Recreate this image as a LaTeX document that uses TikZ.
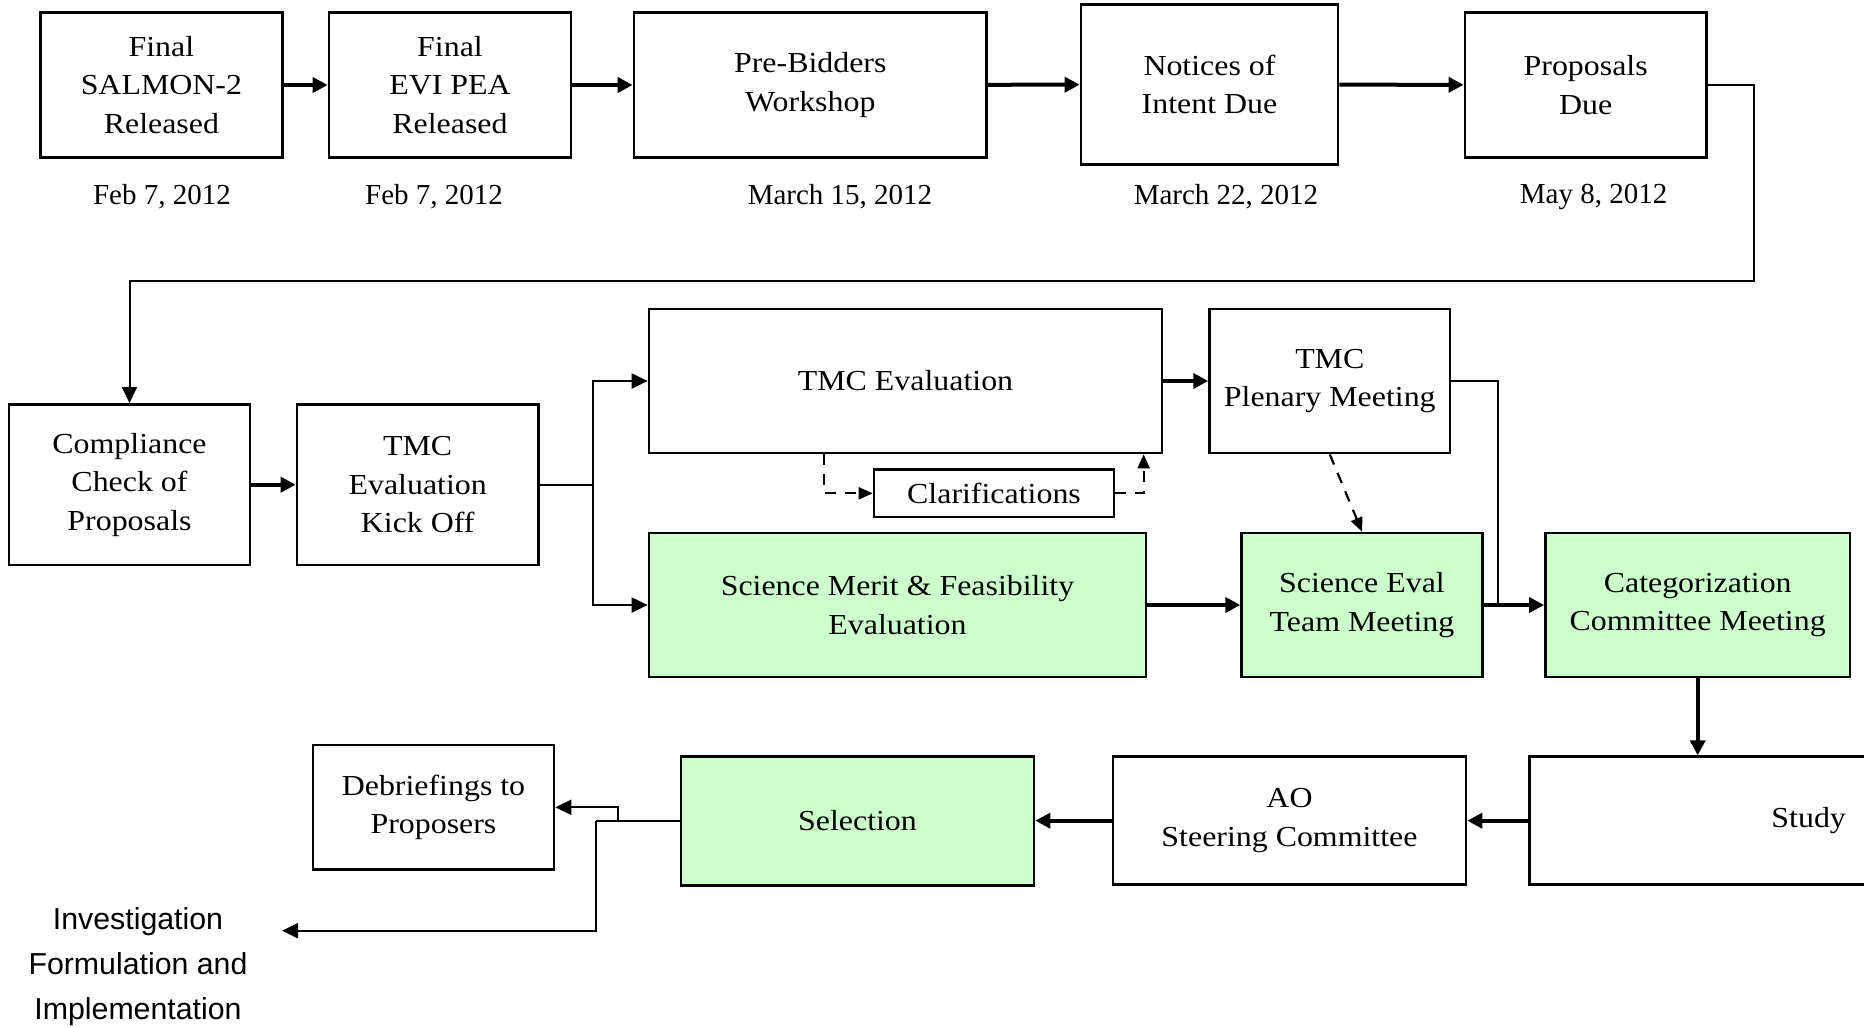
\documentclass[tikz,border=0pt]{standalone}
\usepackage{fontspec}
\setmainfont{Liberation Serif}[FakeStretch=1.1]
\newfontfamily\datefont{Liberation Serif}
\newfontfamily\sansfont{Liberation Sans}
\usepackage{xcolor}
\usepackage{tikz}
\usetikzlibrary{arrows.meta,calc,positioning}
\definecolor{evalgreen}{RGB}{204,255,204}

\begin{document}
\begin{tikzpicture}[x=1pt,y=-1pt,
    box/.style={draw,line width=2.7pt,align=center,inner sep=0pt,
      font=\fontsize{29}{38.5}\selectfont},
    green box/.style={box,fill=evalgreen},
    date/.style={font=\datefont\fontsize{29}{34}\selectfont},
    thick line/.style={line width=4pt,-{Triangle[length=15pt,width=15pt]}},
    thin line/.style={line width=2pt,-{Triangle[length=16pt,width=15pt]}},
    dash line/.style={line width=2.2pt,dash pattern=on 11pt off 9pt,
      -{Triangle[length=14pt,width=12pt]}}]

    \useasboundingbox (0,0) rectangle (1864,1028);
    \fill[white] (0,0) rectangle (1864,1028);
    \clip (0,0) rectangle (1864,1028);

    % announcement row
    \node[box,minimum width=242pt,minimum height=144.6pt] (sal) at (161.4,85) {Final\\SALMON-2\\Released};
    \node[box,minimum width=242pt,minimum height=144.6pt] (evi) at (450,85) {Final\\EVI PEA\\Released};
    \node[box,minimum width=352.7pt,minimum height=144.6pt] (pre) at (810.3,85) {Pre-Bidders\\Workshop};
    \node[box,minimum width=257pt,minimum height=160.4pt] (noi) at (1209.5,84.5) {Notices of\\Intent Due};
    \node[box,minimum width=241.5pt,minimum height=144.6pt] (pro) at (1585.7,85) {Proposals\\Due};

    \node[date] (dsal) at (162,196.5) {Feb 7, 2012};
    \node[date] (devi) at (434,196.5) {Feb 7, 2012};
    \node[date] (dpre) at (840,196.5) {March 15, 2012};
    \node[date] (dnoi) at (1226,196.5) {March 22, 2012};
    \node[date] (dpro) at (1593.6,196.5) {May 8, 2012};

    % evaluation row
    \node[box,minimum width=241pt,minimum height=160.7pt] (comp) at (129.5,484.7) {Compliance\\Check of\\Proposals};
    \node[box,minimum width=241.5pt,minimum height=160.7pt] (kick) at (417.7,484.7) {TMC\\Evaluation\\Kick Off};
    \node[box,minimum width=513pt,minimum height=144pt] (tmce) at (905.5,381) {TMC Evaluation};
    \node[box,minimum width=240.4pt,minimum height=144pt] (plen) at (1329.8,381) {TMC\\Plenary Meeting};
    \node[box,minimum width=240pt,minimum height=47.4pt] (clar) at (994,493.3) {Clarifications};
    \node[green box,minimum width=497pt,minimum height=144pt] (merit) at (897.5,605) {Science Merit \& Feasibility\\Evaluation};
    \node[green box,minimum width=240.7pt,minimum height=144pt] (seval) at (1362,605) {Science Eval\\Team Meeting};
    \node[green box,minimum width=304.6pt,minimum height=144pt] (cat) at (1697.7,605) {Categorization\\Committee Meeting};

    % selection row
    \node[box,minimum width=559pt,minimum height=128pt] (study) at (1808.7,820.7) {Study};
    \node[box,minimum width=353pt,minimum height=128pt] (ao) at (1289.5,820.7) {AO\\Steering Committee};
    \node[green box,minimum width=353pt,minimum height=129pt] (sel) at (857.5,820.7) {Selection};
    \node[box,minimum width=241pt,minimum height=124.7pt] (deb) at (433.5,807.3) {Debriefings to\\Proposers};
    \node[align=center,font=\sansfont\fontsize{30.3}{45}\selectfont] (inv) at (138,967) {Investigation\\Formulation and\\Implementation};

    \coordinate (turn) at (1754,281);
    \coordinate (split) at (593,484.7);
    \coordinate (join) at (1498,605);
    \coordinate (fork) at (618,820.7);
    \coordinate (drop) at (596,820.7);
    \coordinate (impl) at (282,930.7);

    \draw[thick line] (sal) edge (evi) (evi) edge (pre) (pre) edge (noi) (noi) edge (pro);
    \draw[thin line] (pro.east) -| (turn) -| (comp.north);
    \draw[thick line] (comp) -- (kick);
    \draw[line width=2pt] (kick.east) -- (split);
    \draw[thin line] (split) |- (tmce.west);
    \draw[thin line] (split) |- (merit.west);
    \draw[thick line] (tmce) -- (plen);
    \draw[thick line] (merit) -- (seval);
    \draw[line width=2pt] (plen.east) -| (join);
    \draw[thick line] (seval) -- (cat);
    \draw[dash line] ($(tmce.south west)+(176,0)$) |- (clar.west);
    \draw[dash line] (clar.east) -| ($(tmce.south west)+(496,0)$);
    \draw[dash line] (plen.south) -- (seval.north);
    \draw[thick line] (cat.south) -- (cat.south |- study.north);
    \draw[thick line] (study.west) -- (ao.east);
    \draw[thick line] (ao) -- (sel);
    \draw[line width=2pt] (sel.west) -- (drop);
    \draw[thin line] (fork) |- (deb.east);
    \draw[thin line] (drop) |- (impl);

\end{tikzpicture}
\end{document}
